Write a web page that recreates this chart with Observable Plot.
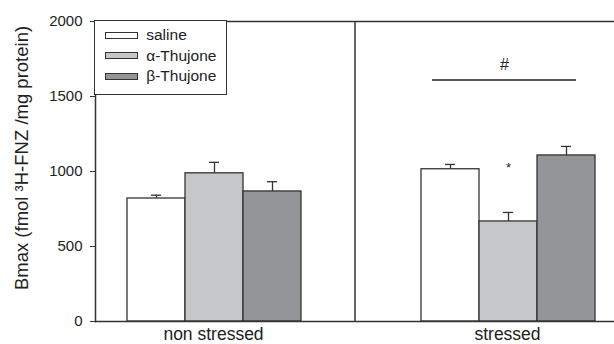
<!DOCTYPE html>
<html><head><meta charset="utf-8">
<script src="https://cdn.jsdelivr.net/npm/d3@7"></script>
<script src="https://cdn.jsdelivr.net/npm/@observablehq/plot@0.6"></script>
<style>
body{margin:0;background:#fff;font-family:"Liberation Sans",Arial,sans-serif;}
#wrap{position:relative;width:614px;height:344px;overflow:hidden;}
#wrap svg{display:block;}
</style></head><body><div id="wrap"></div>
<script>
// ---- data ----
const groups = ["non stressed", "stressed"];
const treatments = ["saline", "α-Thujone", "β-Thujone"];
const meansNonStressed = [820, 988, 867];
const semNonStressed = [22, 73, 65];
const meansStressed = [1015, 667, 1107];
const semStressed = [32, 60, 60];
const fills = ["#ffffff", "#c6c7c9", "#939598"];
const yTicks = [0, 500, 1000, 1500, 2000];
const yTitle = "Bmax (fmol ³H-FNZ /mg protein)";
const sigLines = [{group: "stressed", from: "saline", to: "β-Thujone", over: "α-Thujone", value: 1610, label: "#"}];
const stars = [{group: "stressed", treatment: "α-Thujone", value: 1025, label: "*"}];

const meansByGroup = [meansNonStressed, meansStressed];
const semByGroup = [semNonStressed, semStressed];
const rows = groups.flatMap((g, gi) => treatments.map((t, ti) => ({
  group: g, treatment: t, mean: meansByGroup[gi][ti], sem: semByGroup[gi][ti]
})));

const ink = "#333";
const plot = Plot.plot({
  width: 614, height: 344,
  marginLeft: 95, marginRight: 0, marginTop: 21, marginBottom: 23,
  style: {fontFamily: "'Liberation Sans', Arial, sans-serif", fontSize: "15px", color: "#222", background: "#fff", overflow: "visible"},
  fx: {domain: groups, paddingInner: 0.2347, paddingOuter: 0, label: null},
  x: {domain: treatments, paddingInner: 0, paddingOuter: 0.4068, align: 0.625, axis: null},
  y: {domain: [0, 2000], label: null},
  color: {domain: treatments, range: fills},
  marks: [
    Plot.barY(rows, {fx: "group", x: "treatment", y: "mean", fill: "treatment", stroke: ink, strokeWidth: 1.3}),
    Plot.ruleX(rows, {fx: "group", x: "treatment", y1: "mean", y2: d => d.mean + d.sem, stroke: ink, strokeWidth: 1.3}),
    Plot.tickY(rows, {fx: "group", x: "treatment", y: d => d.mean + d.sem, stroke: ink, strokeWidth: 1.3, insetLeft: 24, insetRight: 24}),
    Plot.ruleY(sigLines, {fx: "group", x1: "from", x2: "to", y: "value", stroke: "#222", strokeWidth: 1.3, insetLeft: 11, insetRight: 19}),
    Plot.text(sigLines, {fx: "group", x: "over", y: "value", text: "label", dy: -15, dx: -4, fontSize: 16, fill: "#222"}),
    Plot.text(stars, {fx: "group", x: "treatment", y: "value", text: "label", fontSize: 13, fill: "#222"}),
    Plot.axisY({ticks: yTicks, tickFormat: d3.format("d"), tickSize: 5, tickPadding: 8, fontSize: 15, label: null, stroke: ink}),
    Plot.axisFx({anchor: "bottom", tickSize: 0, tickPadding: 6.5, dx: 5.5, fontSize: 17.5, label: null}),
    Plot.frame({anchor: "top", facet: "super", stroke: ink, strokeWidth: 1.5}),
    Plot.frame({anchor: "bottom", facet: "super", stroke: ink, strokeWidth: 1.5}),
    Plot.frame({anchor: "left", facet: "super", stroke: ink, strokeWidth: 1.5}),
    Plot.ruleX([0], {x: null, facet: "super", stroke: ink, strokeWidth: 1.5}),
    Plot.text([yTitle], {facet: "super", frameAnchor: "left", text: d => d, rotate: -90, textAnchor: "middle", lineAnchor: "bottom", dx: -67.5, dy: -13.5, fontSize: 18.5, fill: "#222"})
  ]
});
const wrap = d3.select("#wrap");
wrap.node().appendChild(plot);

// legend (inside plot frame, top-left)
const legend = wrap.append("div")
  .style("position", "absolute").style("left", "94.25px").style("top", "20.25px")
  .style("width", "133px").style("height", "75px").style("box-sizing", "border-box")
  .style("border", `1.5px solid ${ink}`).style("background", "#fff");
treatments.forEach((t, i) => {
  const row = legend.append("div")
    .style("position", "absolute").style("left", "10px").style("top", `${4 + i * 20.5}px`)
    .style("height", "20px").style("display", "flex").style("align-items", "center")
    .style("font-size", "15.5px").style("color", "#222").style("white-space", "nowrap");
  row.append("span").style("display", "inline-block").style("width", "33px").style("height", "7px")
    .style("box-sizing", "border-box").style("border", `1.2px solid ${ink}`).style("background", fills[i])
    .style("margin-right", "8px");
  row.append("span").text(t);
});
</script>
</body></html>
